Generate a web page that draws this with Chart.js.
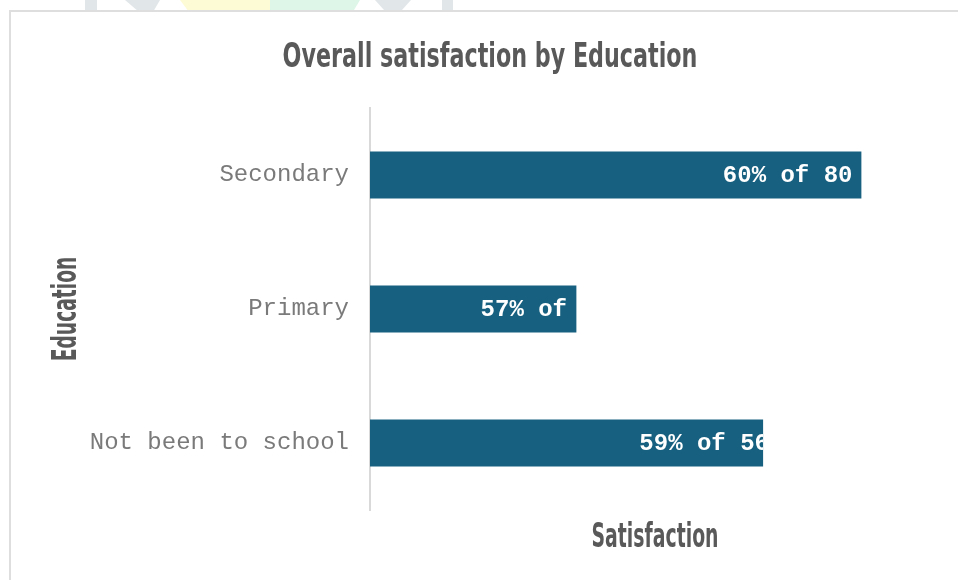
<!DOCTYPE html>
<html><head><meta charset="utf-8">
<script src="https://cdn.jsdelivr.net/npm/chart.js@4.4.0/dist/chart.umd.min.js"></script>
<style>
html,body{margin:0;padding:0;width:958px;height:580px;overflow:hidden;background:#fff;}
.wm{position:absolute;top:0;height:12px;}
#frame{position:absolute;left:9px;top:10px;width:960px;height:580px;background:#fff;border-left:2px solid #dedede;border-top:2px solid #dedede;}
#c{position:absolute;left:0;top:0;}
</style></head><body>
<div class="wm" style="left:85px;width:12px;background:#e1e6e8"></div>
<div class="wm" style="left:125px;width:35px;background:#e1e6e8;clip-path:polygon(0 0,100% 0,80% 100%,40% 100%)"></div>
<div class="wm" style="left:180px;width:90px;background:#fdfbd6;clip-path:polygon(0 0,100% 0,100% 100%,10% 100%)"></div>
<div class="wm" style="left:270px;width:90px;background:#def6e8;clip-path:polygon(0 0,100% 0,92% 100%,0 100%)"></div>
<div class="wm" style="left:375px;width:36px;background:#e1e6e8;clip-path:polygon(0 0,100% 0,70% 100%,30% 100%)"></div>
<div class="wm" style="left:442px;width:11px;background:#e1e6e8"></div>
<div id="frame"></div>
<canvas id="c" width="958" height="580"></canvas>
<script>
// ---- data ----
const categories = ["Secondary", "Primary", "Not been to school"];
const satisfaction = [60.0, 57.1, 59.0];   // % satisfied (bar length)
const respondents = [80, 35, 56];          // group size used in label
const axisMin = 55;
const axisMax = 60.8;

const chartTitle = "Overall satisfaction by Education";
const xTitle = "Satisfaction";
const yTitle = "Education";

const barLabels = satisfaction.map((v, i) => Math.round(v) + "% of " + respondents[i]);

const titleFont = 'bold 34px "DejaVu Sans", sans-serif';
const titleColor = '#595959';

function drawCondensed(ctx, text, x, y, rot, condense) {
  ctx.save();
  ctx.translate(x, y);
  if (rot) ctx.rotate(rot);
  ctx.scale(condense, 1);
  ctx.font = titleFont;
  ctx.fillStyle = titleColor;
  ctx.textAlign = 'center';
  ctx.textBaseline = 'alphabetic';
  ctx.fillText(text, 0, 0);
  ctx.restore();
}

const titlesPlugin = {
  id: 'condensedTitles',
  afterDraw(chart) {
    const ctx = chart.ctx;
    const ca = chart.chartArea;
    drawCondensed(ctx, chartTitle, 490, 67, 0, 0.654);
    drawCondensed(ctx, xTitle, (ca.left + ca.right) / 2, 547, 0, 0.555);
    drawCondensed(ctx, yTitle, 76, (ca.top + ca.bottom) / 2, -Math.PI / 2, 0.55);
  }
};

const barLabelPlugin = {
  id: 'barLabels',
  afterDatasetsDraw(chart) {
    const ctx = chart.ctx;
    const left = chart.chartArea.left;
    const meta = chart.getDatasetMeta(0);
    meta.data.forEach((bar, i) => {
      const p = bar.getProps(['x', 'y', 'height'], true);
      const base = left;
      ctx.save();
      ctx.beginPath();
      ctx.rect(base, p.y - p.height / 2, p.x - base, p.height);
      ctx.clip();
      ctx.font = 'bold 24px "Liberation Mono", "Courier New", monospace';
      ctx.fillStyle = '#ffffff';
      ctx.textAlign = 'center';
      ctx.textBaseline = 'middle';
      ctx.fillText(barLabels[i], base + 0.85 * (p.x - base), p.y + 1);
      ctx.restore();
    });
  }
};

new Chart(document.getElementById('c'), {
  type: 'bar',
  data: {
    labels: categories,
    datasets: [{
      data: satisfaction,
      backgroundColor: '#17607F',
      borderWidth: 0,
      barPercentage: 0.35,
      categoryPercentage: 1.0
    }]
  },
  options: {
    indexAxis: 'y',
    responsive: false,
    animation: false,
    layout: { padding: { top: 108, bottom: 70, right: 18, left: 90 } },
    plugins: { legend: { display: false }, tooltip: { enabled: false }, title: { display: false } },
    scales: {
      x: { display: false, min: axisMin, max: axisMax },
      y: {
        afterFit(scale) { scale.width = 280; },
        grid: { display: false, drawTicks: false },
        border: { display: true, color: '#d9d9d9', width: 2 },
        ticks: {
          padding: 21,
          color: '#7a7a7a',
          font: { family: '"Liberation Mono", "Courier New", monospace', size: 24 }
        }
      }
    }
  },
  plugins: [titlesPlugin, barLabelPlugin]
});
</script>
</body></html>
